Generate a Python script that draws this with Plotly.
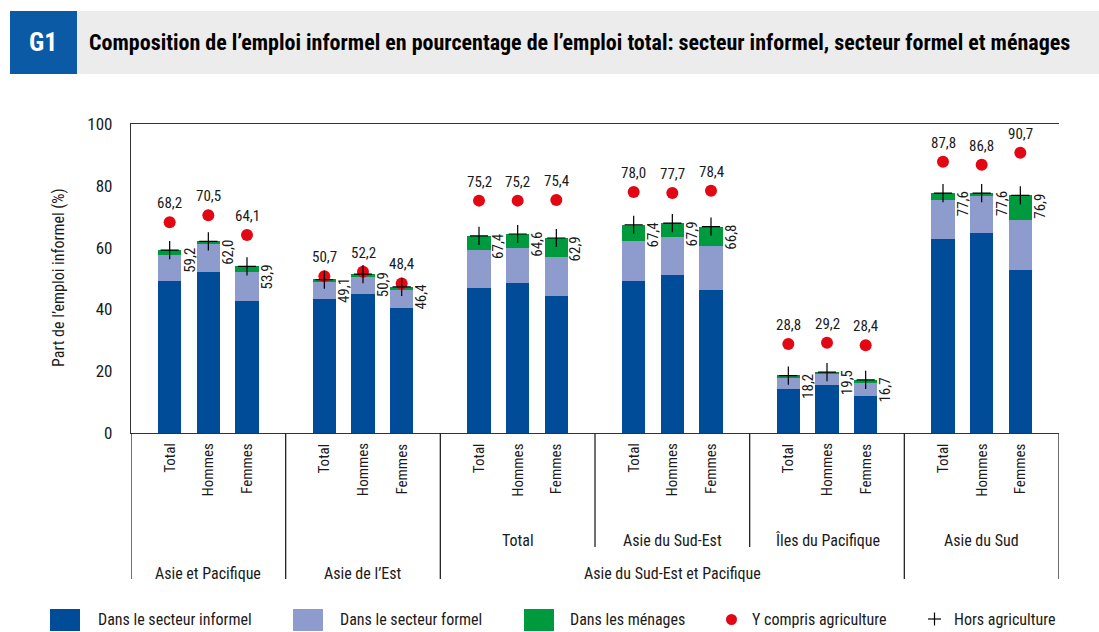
import plotly.graph_objects as go

# ---------------- data ----------------
sexes = ["Total", "Hommes", "Femmes"]
regions = ["Asie et Pacifique", "Asie de l’Est", "Total", "Asie du Sud-Est",
           "Îles du Pacifique", "Asie du Sud"]
parent_label = "Asie du Sud-Est et Pacifique"
parent_members = [2, 3, 4]

informal = [49.2, 52.1, 42.7, 43.4, 45.0, 40.5, 46.9, 48.5, 44.3,
            49.2, 51.1, 46.3, 14.2, 15.5, 12.0, 62.8, 64.7, 52.8]
formal = [8.4, 9.1, 9.4, 5.5, 5.5, 5.8, 12.3, 11.4, 12.7,
          12.9, 12.3, 14.2, 3.6, 3.6, 4.2, 12.6, 12.0, 16.1]
households = [1.6, 0.8, 1.8, 0.9, 1.0, 0.9, 4.6, 4.5, 6.1,
              5.3, 4.5, 6.3, 1.0, 0.6, 1.0, 2.2, 0.9, 8.0]
incl_agri = [68.2, 70.5, 64.1, 50.7, 52.2, 48.4, 75.2, 75.2, 75.4,
             78.0, 77.7, 78.4, 28.8, 29.2, 28.4, 87.8, 86.8, 90.7]
excl_agri = [59.2, 62.0, 53.9, 49.6, 51.4, 47.3, 63.8, 64.4, 63.1,
             67.4, 67.9, 66.8, 18.6, 19.7, 17.2, 77.6, 77.6, 76.9]
excl_agri_labels = [59.2, 62.0, 53.9, 49.1, 50.9, 46.4, 67.4, 64.6, 62.9,
                    67.4, 67.9, 66.8, 18.2, 19.5, 16.7, 77.6, 77.6, 76.9]

series_names = ["Dans le secteur informel", "Dans le secteur formel", "Dans les ménages"]
series_colors = ["#004c98", "#8e9bcd", "#009a3e"]
red = "#e30613"

title = "Composition de l’emploi informel en pourcentage de l’emploi total: secteur informel, secteur formel et ménages"
y_title = "Part de l’emploi informel (%)"

# ---------------- layout helpers ----------------
W, H = 1099, 632
L, R, T, B = 131, 1059, 124, 433
FONT = "Roboto Condensed, Open Sans Condensed, Roboto, sans-serif"
TXT = "#1a1a1a"

# approximate advance widths (em) of the condensed font, used to centre rotated text
CW = {"T": .54, "o": .50, "t": .29, "a": .48, "l": .21, "H": .63, "m": .78, "e": .47,
      "s": .46, "F": .49, ",": .19}


def est_len(text, size):
    return sum(CW.get(c, .49) for c in text) * size


def px(x):
    return (x - L) / (R - L)


def py(y):
    return (B - y) / (B - T)


def fmt(v):
    return f"{v:.1f}".replace(".", ",")


n_reg = len(regions)
slot = 4
xs = [slot * r + s + 1 for r in range(n_reg) for s in range(len(sexes))]

fig = go.Figure()
for vals, name, col in zip([informal, formal, households], series_names, series_colors):
    fig.add_trace(go.Bar(x=xs, y=vals, name=name, marker=dict(color=col, line=dict(width=0)),
                         width=0.6, showlegend=False, hoverinfo="skip"))

fig.add_trace(go.Scatter(x=xs, y=incl_agri, mode="markers", showlegend=False, hoverinfo="skip",
                         marker=dict(color=red, size=12, line=dict(width=0))))
fig.add_trace(go.Scatter(x=xs, y=excl_agri, mode="markers", showlegend=False, hoverinfo="skip",
                         marker=dict(symbol="cross-thin", size=13, color="black",
                                     line=dict(color="black", width=1.2))))

ann = []
shapes = []
LBL = 15
# dot labels
for x, v in zip(xs, incl_agri):
    ann.append(dict(x=x, y=v, xref="x", yref="y", text=fmt(v), showarrow=False,
                    yanchor="bottom", yshift=8, font=dict(size=LBL, color=TXT, family=FONT)))
# rotated labels next to bars (centre-anchored)
for x, v, lab in zip(xs, excl_agri, excl_agri_labels):
    t = fmt(lab)
    ann.append(dict(x=x + 0.3, y=v, xref="x", yref="y", text=t, showarrow=False,
                    textangle=-90, xanchor="center", yanchor="middle", xshift=8,
                    yshift=-(est_len(t, LBL) / 2 - 2),
                    font=dict(size=LBL, color=TXT, family=FONT)))
# sex labels under axis (top of text at 443 px)
for i, x in enumerate(xs):
    t = sexes[i % 3]
    ann.append(dict(x=x, y=py(443 + est_len(t, 15) / 2), xref="x", yref="paper", text=t, showarrow=False,
                    textangle=-90, xanchor="center", yanchor="middle",
                    font=dict(size=15, color=TXT, family=FONT)))
# region labels
for r, name in enumerate(regions):
    in_parent = r in parent_members or r == n_reg - 1
    ypix = 540 if in_parent else 573
    ann.append(dict(x=slot * r + 2, y=py(ypix), xref="x", yref="paper", text=name, showarrow=False,
                    xanchor="center", yanchor="middle", font=dict(size=16, color=TXT, family=FONT)))
ann.append(dict(x=slot * (parent_members[0] + parent_members[-1] + 1) / 2, y=py(573), xref="x", yref="paper",
                text=parent_label, showarrow=False, xanchor="center", yanchor="middle",
                font=dict(size=16, color=TXT, family=FONT)))
# separators
for b in range(n_reg + 1):
    short = b in parent_members[1:]
    shapes.append(dict(type="line", xref="x", yref="paper", x0=slot * b, x1=slot * b,
                       y0=0, y1=py(547 if short else 579), line=dict(color="#222", width=1.3)))

# y title
ann.append(dict(x=px(58), y=py(278), xref="paper", yref="paper", text=y_title, showarrow=False,
                textangle=-90, xanchor="center", yanchor="middle",
                font=dict(size=16, color=TXT, family=FONT)))

# banner
shapes.append(dict(type="rect", xref="paper", yref="paper", x0=px(10), x1=px(1099), y0=py(74), y1=py(11),
                   fillcolor="#ececec", line=dict(width=0), layer="below"))
shapes.append(dict(type="rect", xref="paper", yref="paper", x0=px(10), x1=px(77), y0=py(74), y1=py(11),
                   fillcolor="#0a5aa6", line=dict(width=0), layer="below"))
ann.append(dict(x=px(43), y=py(42), xref="paper", yref="paper", text="<b>G1</b>", showarrow=False,
                xanchor="center", yanchor="middle", font=dict(size=26, color="white", family=FONT)))
ann.append(dict(x=px(87), y=py(42), xref="paper", yref="paper", text="<b>" + title + "</b>", showarrow=False,
                xanchor="left", yanchor="middle", font=dict(size=22, color="black", family=FONT)))

# legend (drawn manually)
leg_y = 619
sq = [(50, 96), (293, 338), (524, 568)]
for (x0, tx), name, col in zip(sq, series_names, series_colors):
    shapes.append(dict(type="rect", xref="paper", yref="paper", x0=px(x0), x1=px(x0 + 30),
                       y0=py(631), y1=py(609), fillcolor=col, line=dict(width=0)))
    ann.append(dict(x=px(tx), y=py(leg_y), xref="paper", yref="paper", text=name, showarrow=False,
                    xanchor="left", yanchor="middle", font=dict(size=16, color=TXT, family=FONT)))
shapes.append(dict(type="circle", xref="paper", yref="paper", x0=px(726), x1=px(737),
                   y0=py(625), y1=py(614), fillcolor=red, line=dict(width=0)))
ann.append(dict(x=px(750), y=py(leg_y), xref="paper", yref="paper", text="Y compris agriculture",
                showarrow=False, xanchor="left", yanchor="middle", font=dict(size=16, color=TXT, family=FONT)))
shapes.append(dict(type="line", xref="paper", yref="paper", x0=px(928), x1=px(941), y0=py(619), y1=py(619),
                   line=dict(color="black", width=1.2)))
shapes.append(dict(type="line", xref="paper", yref="paper", x0=px(934.5), x1=px(934.5), y0=py(612.5), y1=py(625.5),
                   line=dict(color="black", width=1.2)))
ann.append(dict(x=px(952), y=py(leg_y), xref="paper", yref="paper", text="Hors agriculture",
                showarrow=False, xanchor="left", yanchor="middle", font=dict(size=16, color=TXT, family=FONT)))

fig.update_layout(
    width=W, height=H, barmode="stack", bargap=0,
    margin=dict(l=L, r=W - R, t=T, b=H - B, autoexpand=False),
    paper_bgcolor="white", plot_bgcolor="white",
    font=dict(family=FONT, color=TXT),
    xaxis=dict(range=[0, slot * n_reg], showgrid=False, zeroline=False, showticklabels=False,
               ticks="", showline=True, mirror=True, linecolor="#333", linewidth=1.3, fixedrange=True),
    yaxis=dict(range=[0, 100], dtick=20, showgrid=False, zeroline=False, showline=True,
               linecolor="#333", linewidth=1.3, ticks="", ticklabelstandoff=14,
               tickfont=dict(size=17, color=TXT, family=FONT), fixedrange=True),
    annotations=ann, shapes=shapes,
)

fig.write_html("out.html", config={"displayModeBar": False},
               post_script="document.body.style.margin='0';")
